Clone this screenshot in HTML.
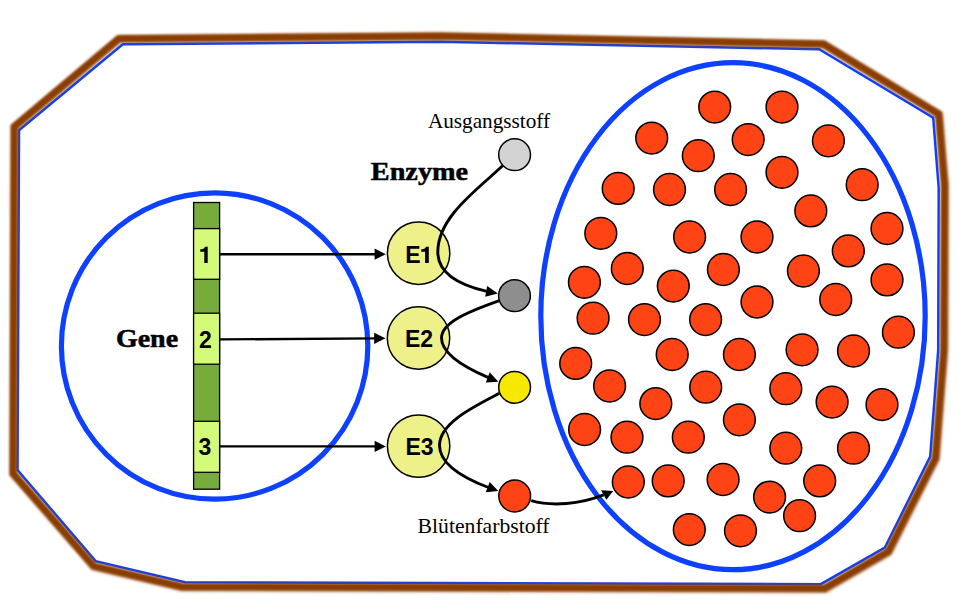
<!DOCTYPE html>
<html><head><meta charset="utf-8"><title>Gene - Enzyme - Blütenfarbstoff</title>
<style>
html,body{margin:0;padding:0;background:#fff;}
body{width:966px;height:609px;overflow:hidden;font-family:"Liberation Sans",sans-serif;}
svg{display:block}
.sans{font-family:"Liberation Sans",sans-serif;font-weight:bold;font-size:23px;fill:#000}
.serif{font-family:"Liberation Serif",serif;font-size:21px;fill:#000}
.serifb{font-family:"Liberation Serif",serif;font-weight:bold;font-size:25px;fill:#000;stroke:#000;stroke-width:0.5px}
</style></head><body>
<svg width="966" height="609" viewBox="0 0 966 609">
<defs>
<filter id="soft" x="-5%" y="-5%" width="110%" height="110%"><feGaussianBlur stdDeviation="0.9"/></filter>
<filter id="soft2" x="-5%" y="-5%" width="110%" height="110%"><feGaussianBlur stdDeviation="0.5"/></filter>
<filter id="soft3" x="-5%" y="-5%" width="110%" height="110%"><feGaussianBlur stdDeviation="0.7"/></filter>
<filter id="shadow" x="-5%" y="-5%" width="110%" height="110%"><feGaussianBlur stdDeviation="1.5"/></filter>
</defs>
<rect width="966" height="609" fill="#fff"/>
<!-- membrane -->
<polygon points="19.0,130.2 122.8,44.3 440,41.8 819.2,49.2 933.2,117.8 938.7,188 938.2,350 930.2,456.6 884.8,547.7 820.8,584.2 185,582.2 95.6,561.1 17.5,470" fill="none" stroke="#0C40FF" stroke-width="2.5" stroke-linejoin="miter" filter="url(#soft2)"/>
<!-- cell wall -->
<polygon points="14.2,126.7 118.7,38.6 440,36 823.3,44 938.6,114 944.5,185 943.8,350 935.4,458 888.1,551.5 824.6,588.3 181.7,586.7 93.5,566 13,473.4" transform="translate(0.7,0.8)" fill="none" stroke="#8A3D05" stroke-opacity="0.6" stroke-width="7.6" stroke-linejoin="miter" filter="url(#shadow)"/>
<polygon points="14.2,126.7 118.7,38.6 440,36 823.3,44 938.6,114 944.5,185 943.8,350 935.4,458 888.1,551.5 824.6,588.3 181.7,586.7 93.5,566 13,473.4" fill="none" stroke="#8A3D05" stroke-width="6.9" stroke-linejoin="miter" filter="url(#soft)"/>
<!-- nucleus -->
<circle cx="214.6" cy="346" r="153.2" fill="none" stroke="#0C40FF" stroke-width="5.2" filter="url(#soft3)"/>
<!-- vacuole -->
<ellipse cx="733" cy="316.2" rx="192.2" ry="253.5" fill="none" stroke="#0C40FF" stroke-width="5.2" filter="url(#soft3)"/>
<!-- pigment -->
<g fill="#FE4414" stroke="#000" stroke-width="1.5"><circle cx="714.7" cy="107.1" r="15.9"/><circle cx="782" cy="107.1" r="15.9"/><circle cx="651.7" cy="138.1" r="15.9"/><circle cx="748.2" cy="139.6" r="15.9"/><circle cx="828.4" cy="140.8" r="15.9"/><circle cx="698.3" cy="155.7" r="15.9"/><circle cx="782" cy="172.3" r="15.9"/><circle cx="618.2" cy="188.4" r="15.9"/><circle cx="669.5" cy="189.5" r="15.9"/><circle cx="730.6" cy="189.5" r="15.9"/><circle cx="862.2" cy="184.7" r="15.9"/><circle cx="810.8" cy="210.9" r="15.9"/><circle cx="600.8" cy="233.3" r="15.9"/><circle cx="689.6" cy="237" r="15.9"/><circle cx="757" cy="237" r="15.9"/><circle cx="887" cy="228.5" r="15.9"/><circle cx="848.3" cy="250.9" r="15.9"/><circle cx="627.3" cy="268.5" r="15.9"/><circle cx="723.4" cy="269.5" r="15.9"/><circle cx="803.4" cy="271" r="15.9"/><circle cx="887" cy="279.9" r="15.9"/><circle cx="584.4" cy="282.3" r="15.9"/><circle cx="673.3" cy="286.1" r="15.9"/><circle cx="757" cy="302" r="15.9"/><circle cx="835.7" cy="299.5" r="15.9"/><circle cx="593.1" cy="318.2" r="15.9"/><circle cx="644.5" cy="319.6" r="15.9"/><circle cx="705.6" cy="319.6" r="15.9"/><circle cx="898.4" cy="332.2" r="15.9"/><circle cx="802.1" cy="349.8" r="15.9"/><circle cx="853.5" cy="351" r="15.9"/><circle cx="672.2" cy="354.5" r="15.9"/><circle cx="739.4" cy="354.5" r="15.9"/><circle cx="575.7" cy="363.4" r="15.9"/><circle cx="609.6" cy="386" r="15.9"/><circle cx="705.7" cy="387.2" r="15.9"/><circle cx="785.8" cy="388.7" r="15.9"/><circle cx="655.8" cy="403.6" r="15.9"/><circle cx="832.1" cy="402.1" r="15.9"/><circle cx="882" cy="404.6" r="15.9"/><circle cx="739.4" cy="419.8" r="15.9"/><circle cx="584.6" cy="429.5" r="15.9"/><circle cx="627" cy="437.2" r="15.9"/><circle cx="688.3" cy="437.2" r="15.9"/><circle cx="785.8" cy="448.2" r="15.9"/><circle cx="853.5" cy="448.2" r="15.9"/><circle cx="628.3" cy="482" r="15.9"/><circle cx="668.2" cy="480.9" r="15.9"/><circle cx="723.1" cy="479.5" r="15.9"/><circle cx="819.7" cy="480.9" r="15.9"/><circle cx="769.6" cy="497.1" r="15.9"/><circle cx="799.6" cy="515.7" r="15.9"/><circle cx="689.3" cy="529.6" r="15.9"/><circle cx="740.5" cy="530.8" r="15.9"/></g>
<!-- DNA bar -->
<g stroke="#000" stroke-width="1.3">
<rect x="193.6" y="202.5" width="26" height="286.7" fill="#77AB3B"/>
<rect x="193.6" y="228.6" width="26" height="50.7" fill="#D4FA7A"/>
<rect x="193.6" y="313.2" width="26" height="51" fill="#D4FA7A"/>
<rect x="193.6" y="421.3" width="26" height="51" fill="#D4FA7A"/>
</g>
<path d="M207.7,262.9 L204.3,262.9 L204.3,251.8 L200.3,251.8 L200.3,249.3 C202.5,249.3 204.6,248.6 205,246.65 L207.7,246.65 Z" fill="#000"/>
<text class="sans" x="205.5" y="347.7" text-anchor="middle">2</text>
<text class="sans" x="204.9" y="455" text-anchor="middle">3</text>
<!-- straight arrows -->
<g stroke="#000" stroke-width="2.4" fill="none">
<line x1="220" y1="254.2" x2="377" y2="254.2"/>
<line x1="220" y1="339.4" x2="377" y2="338.4"/>
<line x1="220" y1="446.4" x2="377" y2="446.4"/>
</g>
<g fill="#000">
<polygon points="385.8,254.2 374.6,248.6 374.6,259.8"/>
<polygon points="385.4,338.3 374.2,332.7 374.2,343.9"/>
<polygon points="385.8,446.4 374.6,440.8 374.6,452"/>
</g>
<!-- enzymes -->
<g fill="#EEF08A" stroke="#000" stroke-width="1.5">
<circle cx="418.6" cy="253.2" r="31.2"/>
<circle cx="418.5" cy="338" r="31.2"/>
<circle cx="418.6" cy="446.1" r="31.2"/>
</g>
<text class="sans" x="405.3" y="262.9">E</text><path d="M428.8,262.9 L425.1,262.9 L425.1,251.7 L421.3,251.7 L421.3,249.3 C423.5,249.3 425.4,248.6 425.9,246.65 L428.8,246.65 Z" fill="#000"/>
<text class="sans" x="419.1" y="347.1" text-anchor="middle">E2</text>
<text class="sans" x="419.6" y="455.1" text-anchor="middle">E3</text>
<!-- substance circles -->
<g stroke="#000" stroke-width="1.5">
<circle cx="514.6" cy="154.7" r="15.9" fill="#D3D3D3"/>
<circle cx="514.5" cy="295.7" r="15.9" fill="#8E8E8E"/>
<circle cx="514.6" cy="387.3" r="15.9" fill="#F7E800"/>
<circle cx="514.7" cy="496" r="15.9" fill="#FE4414"/>
</g>
<!-- curves -->
<g stroke="#000" stroke-width="2.9" fill="none">
<path d="M502.6,165.8 C477,190 437.8,217 437.8,252 C437.8,275 462.8,285.9 487,291.4"/>
<path d="M499.4,300.6 C470,311 441.5,322 441.5,338 C441.5,354 465.7,367.9 488.5,377.6"/>
<path d="M499.2,393.4 C472.1,407.5 439.5,423.4 439.5,445.4 C439.5,465 465.3,478.6 488.5,487.5"/>
<path d="M531.2,500.7 C552,506.6 580,504.2 603.7,494.9"/>
</g>
<g fill="#000">
<polygon points="497.9,293.6 487.2,286 485.2,296.7"/>
<polygon points="498.3,381.7 489.7,372.2 485.8,382.5"/>
<polygon points="498.3,491.1 489.7,482.1 485.8,492.3"/>
<polygon points="613.2,491 601,490.3 606.4,499.7"/>
</g>
<!-- labels -->
<text class="serif" x="427.9" y="127.5" textLength="122.2" lengthAdjust="spacingAndGlyphs">Ausgangsstoff</text>
<text class="serif" x="417.6" y="533.1" textLength="132" lengthAdjust="spacingAndGlyphs">Blütenfarbstoff</text>
<text class="serifb" x="370.8" y="179.7" textLength="97.3" lengthAdjust="spacingAndGlyphs">Enzyme</text>
<text class="serifb" x="115.9" y="346.6" textLength="62.2" lengthAdjust="spacingAndGlyphs">Gene</text>
</svg>
</body></html>
